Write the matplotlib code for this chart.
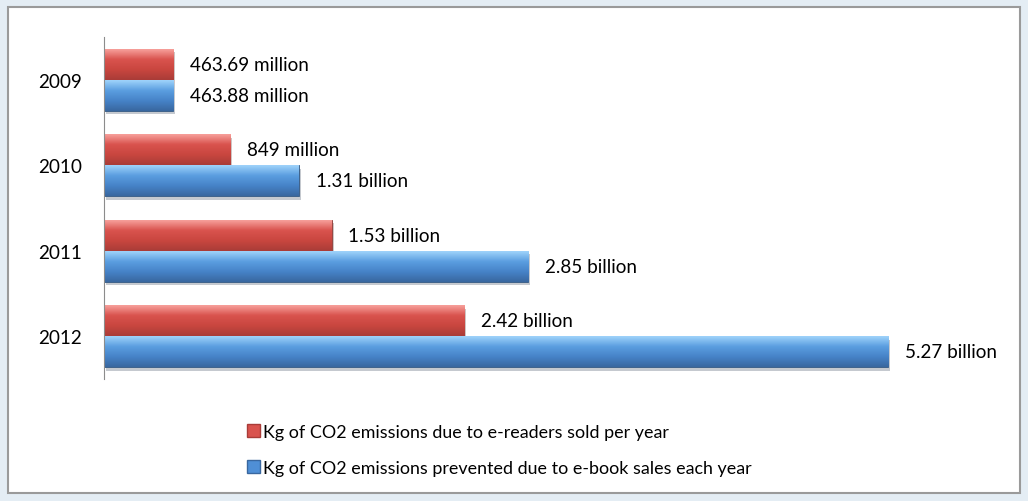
import numpy as np
import matplotlib
matplotlib.use('Agg')
import matplotlib.pyplot as plt
import matplotlib.patheffects as pe
from matplotlib.patches import Rectangle, Patch
from matplotlib.colors import LinearSegmentedColormap

plt.rcParams['font.family'] = ['Lato', 'DejaVu Sans']

years = ['2009', '2010', '2011', '2012']
# kg of CO2, in millions
ereaders = [463.69, 849, 1530, 2420]
ebooks = [463.88, 1310, 2850, 5270]
ereaders_lbl = ['463.69 million', '849 million', '1.53 billion', '2.42 billion']
ebooks_lbl = ['463.88 million', '1.31 billion', '2.85 billion', '5.27 billion']
series_names = ['Kg of CO2 emissions due to e-readers sold per year',
                'Kg of CO2 emissions prevented due to e-book sales each year']

red_cm = LinearSegmentedColormap.from_list('r', ['#f7a09b', '#d9534e', '#c9463f', '#a93c38'])
blue_cm = LinearSegmentedColormap.from_list('b', ['#9fd3fb', '#5b9ee0', '#4683c8', '#39679f'])

fs = 13.6

fig = plt.figure(figsize=(10.28, 5.02), dpi=100)
fig.patch.set_facecolor('#e4edf4')
fig.patches.append(Rectangle((8/1028, 8/502), 1012/1028, 486/502, transform=fig.transFigure,
                             facecolor='white', edgecolor='#9a9a9a', linewidth=1.5, zorder=-5))

ax = fig.add_axes([104/1028, 122/502, 893/1028, 342/502])
ax.set_facecolor('none')

y = np.arange(len(years))
h = 0.36
b1 = ax.barh(y - h/2, ereaders, height=h, color='#d9534e', edgecolor='#8c3a36', linewidth=0.6)
b2 = ax.barh(y + h/2, ebooks, height=h, color='#4f8fd6', edgecolor='#33577f', linewidth=0.6)

# glossy fill + shadow for each bar
grad = np.linspace(0, 1, 100).reshape(-1, 1)
for bars, cm in ((b1, red_cm), (b2, blue_cm)):
    for p in bars:
        p.set_path_effects([pe.SimplePatchShadow(offset=(1.5, -2.5), alpha=0.25), pe.Normal()])
        x0, y0, w, hh = p.get_x(), p.get_y(), p.get_width(), p.get_height()
        im = ax.imshow(grad, cmap=cm, aspect='auto', extent=(x0, x0 + w, y0 + hh, y0),
                       zorder=p.get_zorder() + 0.1, interpolation='bicubic')
        im.set_clip_path(p)

for i in range(len(years)):
    ax.annotate(ereaders_lbl[i], (ereaders[i], y[i] - h/2), xytext=(12, 0),
                textcoords='offset points', va='center', ha='left', fontsize=fs)
    ax.annotate(ebooks_lbl[i], (ebooks[i], y[i] + h/2), xytext=(12, 0),
                textcoords='offset points', va='center', ha='left', fontsize=fs)

ax.set_xlim(0, 6000)
ax.set_ylim(3.5, -0.5)
ax.set_yticks(y)
ax.set_yticklabels(years, fontsize=fs)
ax.tick_params(axis='y', length=0, pad=16)
ax.set_xticks([])
for s in ['top', 'right', 'bottom']:
    ax.spines[s].set_visible(False)
ax.spines['left'].set_color('#8c8c8c')

handles = [Patch(facecolor='#d9534e', edgecolor='#a93c38'),
           Patch(facecolor='#4f8fd6', edgecolor='#39679f')]
fig.legend(handles, series_names, loc='upper left', bbox_to_anchor=(238/1028, 1 - 416/502),
           frameon=False, fontsize=12.9, handlelength=0.75, handleheight=0.75,
           handletextpad=0.15, labelspacing=1.1, borderpad=0)

fig.savefig('out.png', dpi=100, facecolor=fig.get_facecolor())
